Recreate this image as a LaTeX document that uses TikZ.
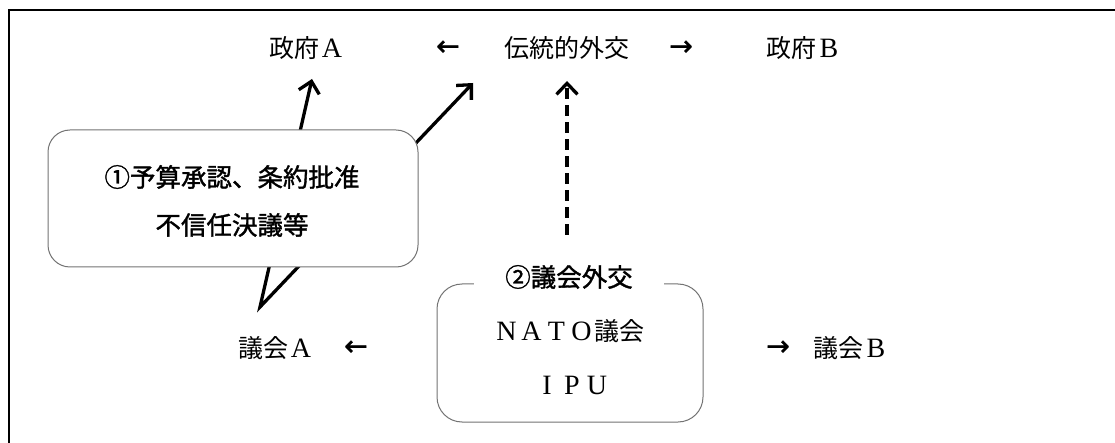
\documentclass[tikz,border=0pt]{standalone}
\usepackage{fontspec}
\setmainfont{Liberation Serif}
\newfontfamily\jp{Noto Sans CJK JP}
\newfontfamily\jpb[FakeBold=1.4]{Noto Sans CJK JP}
\newfontfamily\lat[Scale=1.12]{Liberation Serif}
\newfontfamily\dv[FakeBold=1.2]{DejaVu Sans}
\usetikzlibrary{arrows.meta}
\newcommand\fw[1]{\makebox[1em]{\lat #1}}
\tikzset{mybarb/.tip={Straight Barb[length=11pt,width=21pt]}}
\begin{document}
\begin{tikzpicture}[x=1pt,y=-1pt,
  txt/.style={font=\jp\fontsize{25}{30}\selectfont, inner sep=0pt, anchor=center},
  arrowtxt/.style={font=\dv\fontsize{28}{30}\selectfont, inner sep=0pt, anchor=center},
  boldtxt/.style={font=\jpb\fontsize{25.5}{30}\selectfont, inner sep=0pt, anchor=center},
  arr/.style={line width=3.3pt, line join=miter},
  rbox/.style={draw=black!55, line width=1pt, rounded corners=22pt, fill=white, inner sep=0pt}
]
\useasboundingbox (0,0) rectangle (1115,443);
\draw[line width=2pt] (9,443) -- (9,10) -- (1115,10);

% top row
\node[txt] (ga) at (307,48) {政府\fw{A}};
\node[arrowtxt] (la) at (448,48) {←};
\node[txt] (gaiko) at (567,48) {伝統的外交};
\node[arrowtxt] (ra) at (681,48) {→};
\node[txt] (gb) at (804,48) {政府\fw{B}};

% bottom row
\node[txt] (pa) at (276,348) {議会\fw{A}};
\node[arrowtxt] (lb) at (356,348) {←};
\node[arrowtxt] (rb) at (778,348) {→};
\node[txt] (pb) at (851,348) {議会\fw{B}};

% connectors
\coordinate (v) at (260,307);
\coordinate (tA) at (312,79);
\coordinate (tG) at (473,83);
\coordinate (tD) at (567,81);
\coordinate (dS) at (567,235);
\draw[arr, {mybarb}-{mybarb}] (tA) -- (v) -- (tG);
\draw[arr, -{mybarb}, dash pattern=on 11pt off 6pt] (dS) -- (tD);

% box 1
\node[rbox, minimum width=370pt, minimum height=137pt] (b1) at (233,198.5) {};
\node[boldtxt] (t1) at (232,177) {①予算承認、条約批准};
\node[boldtxt] (t2) at (232,225) {不信任決議等};

% box 2
\node[rbox, rounded corners=25pt, minimum width=266pt, minimum height=138pt] (b2) at (570,353) {};
\node[boldtxt, fill=white, minimum width=190pt, minimum height=16pt] (lab) at (569,277) {②議会外交};
\node[txt] (nato) at (569,331) {\fw{N}\fw{A}\fw{T}\fw{O}議会};
\node[txt] (ipu) at (572,385) {\fw{I}\fw{P}\fw{U}};
\end{tikzpicture}
\end{document}
